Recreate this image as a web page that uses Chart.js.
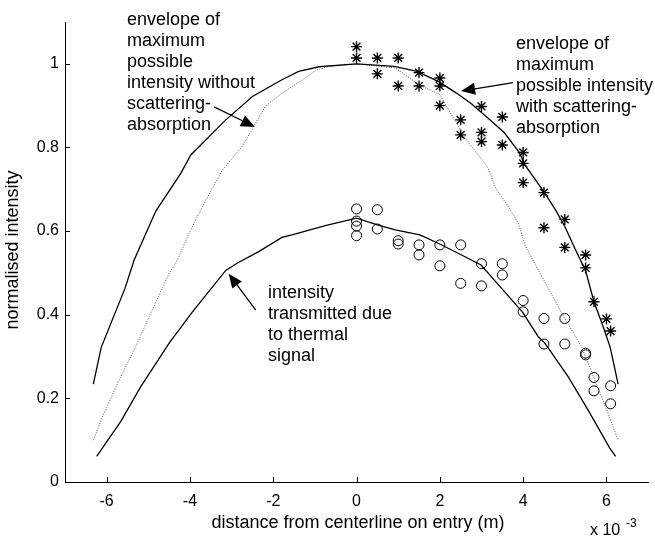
<!DOCTYPE html>
<html>
<head>
<meta charset="utf-8">
<script src="https://cdn.jsdelivr.net/npm/chart.js@4.4.1/dist/chart.umd.min.js"></script>
<style>
  html, body { margin: 0; padding: 0; background: #fff; }
  canvas { display: block; }
</style>
</head>
<body>
<canvas id="chart" width="655" height="539"></canvas>
<script>
// distance from centerline, in units of 1e-3 m
const xTicks = [-6, -4, -2, 0, 2, 4, 6];
const yTicks = [0, 0.2, 0.4, 0.6, 0.8, 1];

// envelope of maximum possible intensity with scattering-absorption (solid)
const withScatterX = [-6.32, -6.13, -5.56, -5.34, -4.82, -4.22, -3.98, -3.14, -2.5, -1.79, -1.39, -0.9, 0,
    0.9, 1.45, 1.96, 2.4, 2.75, 3.2, 3.55, 3.9, 4.05, 4.5, 4.78, 5.0, 5.24, 5.5, 5.7, 5.92, 6.09, 6.28];
const withScatterY = [0.234, 0.322, 0.463, 0.531, 0.648, 0.738, 0.782, 0.866, 0.922, 0.962, 0.982, 0.993, 1.0,
    0.994, 0.982, 0.958, 0.930, 0.905, 0.866, 0.835, 0.789, 0.757, 0.694, 0.650, 0.611, 0.559, 0.505, 0.431, 0.372, 0.322, 0.234];

// envelope without scattering-absorption (dotted)
const noScatterX = [-6.32, -6.1, -5.7, -5.3, -4.94, -4.5, -4.3, -4.02, -3.7, -3.22, -2.75, -2.47, -2.19, -1.79, -1.35, -0.99, -0.67, 0,
    0.93, 1.5, 2.0, 2.35, 2.7, 3.14, 3.36, 3.6, 3.88, 4.05, 4.32, 4.54, 4.95, 5.4, 5.72, 6.04, 6.28];
const noScatterY = [0.100, 0.156, 0.244, 0.324, 0.404, 0.499, 0.531, 0.595, 0.659, 0.746, 0.802, 0.850, 0.898, 0.930, 0.958, 0.984, 0.994, 1.0,
    0.990, 0.950, 0.926, 0.866, 0.810, 0.754, 0.699, 0.665, 0.620, 0.565, 0.515, 0.475, 0.400, 0.324, 0.244, 0.164, 0.100];

// intensity transmitted due to thermal signal (lower solid)
const thermalX = [-6.24, -5.66, -5.18, -4.5, -3.94, -3.14, -2.87, -2.35, -1.79, -1.55, -0.75, 0,
    0.5, 0.93, 1.52, 1.96, 2.44, 2.99, 3.35, 3.98, 4.36, 4.52, 5.08, 5.56, 6.08, 6.22];
const thermalY = [0.061, 0.145, 0.228, 0.332, 0.407, 0.506, 0.523, 0.551, 0.585, 0.591, 0.613, 0.631,
    0.615, 0.603, 0.591, 0.571, 0.547, 0.519, 0.478, 0.407, 0.348, 0.332, 0.252, 0.172, 0.081, 0.061];

// measured points, asterisks
const starX = [0, 0, 0.5, 0.5, 1.0, 1.0, 1.5, 1.5, 2.0, 2.0, 2.0, 2.5, 2.5, 3.0, 3.0, 3.0, 3.5, 3.5,
    4.0, 4.0, 4.0, 4.5, 4.5, 5.0, 5.0, 5.5, 5.5, 5.7, 6.0, 6.1];
const starY = [1.041, 1.014, 1.014, 0.976, 1.014, 0.947, 0.979, 0.947, 0.966, 0.947, 0.900, 0.866, 0.830,
    0.898, 0.836, 0.814, 0.873, 0.806, 0.788, 0.762, 0.716, 0.692, 0.608, 0.628, 0.561, 0.543, 0.512, 0.431, 0.390, 0.361];

// measured points, circles
const circleX = [0, 0, 0, 0, 0.5, 0.5, 1.0, 1.0, 1.5, 1.5, 2.0, 2.0, 2.5, 2.5, 3.0, 3.0, 3.5, 3.5,
    4.0, 4.0, 4.5, 4.5, 5.0, 5.0, 5.5, 5.5, 5.7, 5.7, 6.1, 6.1];
const circleY = [0.653, 0.624, 0.612, 0.589, 0.651, 0.605, 0.577, 0.569, 0.567, 0.543, 0.567, 0.517, 0.567, 0.475,
    0.522, 0.469, 0.522, 0.495, 0.434, 0.407, 0.391, 0.330, 0.391, 0.330, 0.308, 0.304, 0.250, 0.218, 0.230, 0.187];

const FONT = "'Liberation Sans', Arial, sans-serif";

function toPoints(xs, ys) {
    return xs.map((x, i) => ({ x: x, y: ys[i] }));
}

// text blocks and arrows drawn on top of the plot
const notes = [
    { x: 127, y: 20, lines: ['envelope of', 'maximum', 'possible', 'intensity without', 'scattering-', 'absorption'] },
    { x: 516, y: 44, lines: ['envelope of', 'maximum', 'possible intensity', 'with scattering-', 'absorption'] },
    { x: 268, y: 293, lines: ['intensity', 'transmitted due', 'to thermal', 'signal'] }
];
// arrows in data units: [tailX, tailY, tipX, tipY]
const arrows = [
    [-3.42, 0.897, -2.44, 0.849],
    [3.76, 0.955, 2.51, 0.935],
    [-2.42, 0.411, -3.07, 0.498]
];

const decorations = {
    id: 'decorations',
    afterDraw(chart) {
        const ctx = chart.ctx;
        const xs = chart.scales.x;
        const ys = chart.scales.y;
        ctx.save();
        ctx.strokeStyle = '#000';
        ctx.fillStyle = '#000';
        ctx.lineWidth = 1;

        // inward tick marks
        ctx.beginPath();
        xTicks.forEach(v => {
            const px = Math.round(xs.getPixelForValue(v)) + 0.5;
            ctx.moveTo(px, ys.bottom);
            ctx.lineTo(px, ys.bottom - 5);
        });
        yTicks.forEach(v => {
            const py = Math.round(ys.getPixelForValue(v)) + 0.5;
            ctx.moveTo(xs.left, py);
            ctx.lineTo(xs.left + 5, py);
        });
        ctx.stroke();

        // axis titles
        ctx.font = '18px ' + FONT;
        ctx.textAlign = 'center';
        ctx.textBaseline = 'middle';
        ctx.fillText('distance from centerline on entry (m)', 358, 523);
        ctx.save();
        ctx.translate(13, 250);
        ctx.rotate(-Math.PI / 2);
        ctx.fillText('normalised intensity', 0, 0);
        ctx.restore();

        // exponent label
        ctx.textAlign = 'left';
        ctx.textBaseline = 'alphabetic';
        ctx.font = '16px ' + FONT;
        ctx.fillText('x 10', 590, 535);
        ctx.font = '12px ' + FONT;
        ctx.fillText('-3', 626, 527);

        // annotation text
        ctx.font = '18px ' + FONT;
        ctx.textBaseline = 'middle';
        notes.forEach(n => {
            n.lines.forEach((t, i) => ctx.fillText(t, n.x, n.y + i * 21));
        });

        // arrows with filled heads
        arrows.forEach(a => {
            const x0 = xs.getPixelForValue(a[0]), y0 = ys.getPixelForValue(a[1]);
            const x1 = xs.getPixelForValue(a[2]), y1 = ys.getPixelForValue(a[3]);
            const ang = Math.atan2(y1 - y0, x1 - x0);
            const len = 14, half = 6;
            const bx = x1 - len * Math.cos(ang), by = y1 - len * Math.sin(ang);
            ctx.beginPath();
            ctx.moveTo(x0, y0);
            ctx.lineTo(bx, by);
            ctx.lineWidth = 1.3;
            ctx.stroke();
            ctx.beginPath();
            ctx.moveTo(x1, y1);
            ctx.lineTo(bx + half * Math.sin(ang), by - half * Math.cos(ang));
            ctx.lineTo(bx - half * Math.sin(ang), by + half * Math.cos(ang));
            ctx.closePath();
            ctx.fill();
        });
        ctx.restore();
    }
};

const lineStyle = { showLine: true, pointRadius: 0, borderColor: '#000', borderWidth: 1.3, tension: 0, fill: false };

new Chart(document.getElementById('chart'), {
    type: 'scatter',
    data: {
        datasets: [
            Object.assign({ label: 'with scattering-absorption', data: toPoints(withScatterX, withScatterY) }, lineStyle),
            Object.assign({ label: 'without scattering-absorption', data: toPoints(noScatterX, noScatterY) }, lineStyle,
                { borderColor: '#555', borderWidth: 1, borderDash: [1, 1.5] }),
            Object.assign({ label: 'thermal signal', data: toPoints(thermalX, thermalY) }, lineStyle),
            {
                label: 'stars',
                data: toPoints(starX, starY),
                pointStyle: 'star',
                pointRadius: 5.5,
                borderColor: '#000',
                borderWidth: 1.4
            },
            {
                label: 'circles',
                data: toPoints(circleX, circleY),
                pointStyle: 'circle',
                pointRadius: 5,
                backgroundColor: 'rgba(0,0,0,0)',
                borderColor: '#000',
                borderWidth: 1
            }
        ]
    },
    options: {
        responsive: false,
        animation: false,
        devicePixelRatio: 1,
        layout: { padding: { top: 22, right: 5, left: 0, bottom: 0 } },
        plugins: { legend: { display: false }, tooltip: { enabled: false } },
        scales: {
            x: {
                type: 'linear',
                min: -7,
                max: 7,
                afterBuildTicks: scale => { scale.ticks = xTicks.map(v => ({ value: v })); },
                afterFit: scale => { scale.height = 57; },
                grid: { display: false, drawTicks: false },
                border: { display: true, color: '#000', width: 1 },
                ticks: { color: '#000', font: { family: FONT, size: 16 }, padding: 10, maxRotation: 0 }
            },
            y: {
                type: 'linear',
                min: 0,
                max: 1.1,
                afterBuildTicks: scale => { scale.ticks = yTicks.map(v => ({ value: v })); },
                afterFit: scale => { scale.width = 65; },
                grid: { display: false, drawTicks: false },
                border: { display: true, color: '#000', width: 1 },
                ticks: { color: '#000', font: { family: FONT, size: 16 }, padding: 6, callback: v => String(Math.round(v * 10) / 10) }
            }
        }
    },
    plugins: [decorations]
});
</script>
</body>
</html>
